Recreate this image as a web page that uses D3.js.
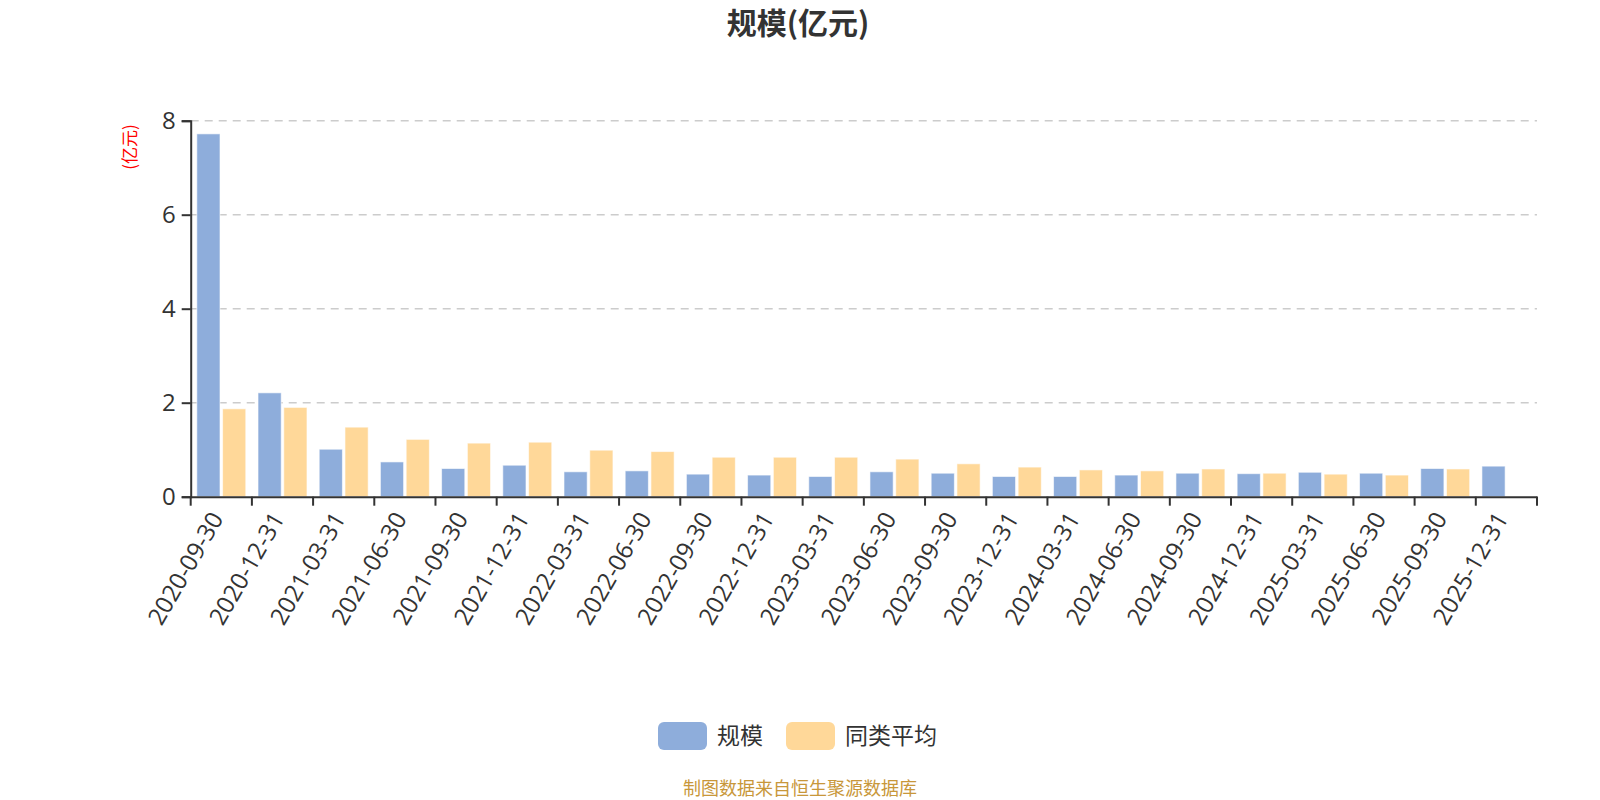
<!DOCTYPE html>
<html>
<head>
<meta charset="utf-8">
<script src="https://cdn.jsdelivr.net/npm/d3@7"></script>
<style>
  body { margin: 0; background: #fff; }
  svg text { font-family: "Noto Sans CJK SC", "Noto Sans", sans-serif; }
</style>
</head>
<body>
<svg id="chart" width="1600" height="800"></svg>
<script>
// data
const dates = ["2020-09-30","2020-12-31","2021-03-31","2021-06-30","2021-09-30","2021-12-31",
  "2022-03-31","2022-06-30","2022-09-30","2022-12-31","2023-03-31","2023-06-30","2023-09-30",
  "2023-12-31","2024-03-31","2024-06-30","2024-09-30","2024-12-31","2025-03-31","2025-06-30",
  "2025-09-30","2025-12-31"];
const guimo = [7.72,2.21,1.01,0.74,0.60,0.67,0.53,0.55,0.48,0.46,0.43,0.53,0.50,0.43,0.43,0.46,0.50,0.49,0.52,0.50,0.60,0.65];
const tonglei = [1.87,1.90,1.48,1.22,1.14,1.16,0.99,0.96,0.84,0.84,0.84,0.80,0.70,0.63,0.57,0.55,0.59,0.50,0.48,0.46,0.59,null];
const seriesNames = ["规模", "同类平均"];
const colors = ["#8eaddb", "#ffd899"];
const yTicks = [0, 2, 4, 6, 8];

const svg = d3.select("#chart");
const plotL = 190.7, plotR = 1537, plotT = 120.7, plotB = 496.7;

const x = d3.scaleBand().domain(dates).range([plotL, plotR]).paddingInner(0.2).paddingOuter(0.1);
const xs = d3.scaleBand().domain(seriesNames).range([0, x.bandwidth()]).paddingInner(0.1);
const y = d3.scaleLinear().domain([0, 8]).range([plotB, plotT]);

// title
svg.append("text")
  .attr("x", 798).attr("y", 34)
  .attr("text-anchor", "middle")
  .style("font-size", "30px").style("font-weight", "bold").style("fill", "#333")
  .text("规模(亿元)");

// unit label
svg.append("text")
  .attr("transform", "translate(130,147) rotate(-90)")
  .attr("text-anchor", "middle").attr("dy", "0.35em")
  .style("font-size", "17px").style("fill", "red")
  .text("(亿元)");

// grid
svg.append("g").selectAll("line")
  .data(yTicks.filter(d => d > 0))
  .join("line")
  .attr("x1", plotL).attr("x2", plotR)
  .attr("y1", d => y(d)).attr("y2", d => y(d))
  .attr("stroke", "#ccc").attr("stroke-width", 1.5)
  .attr("stroke-dasharray", "8,6");

// bars
const rows = dates.map((d, i) => ({ date: d, vals: [guimo[i], tonglei[i]] }));
const groups = svg.append("g").selectAll("g")
  .data(rows)
  .join("g")
  .attr("transform", d => "translate(" + x(d.date) + ",0)");

groups.selectAll("rect")
  .data(d => d.vals.map((v, k) => ({ name: seriesNames[k], v: v, k: k })).filter(e => e.v != null))
  .join("rect")
  .attr("x", e => xs(e.name))
  .attr("width", xs.bandwidth())
  .attr("y", e => y(e.v))
  .attr("height", e => y(0) - y(e.v))
  .attr("fill", e => colors[e.k])
  .attr("stroke", "rgba(255,255,255,0.6)")
  .attr("stroke-width", 1);

// y axis
const yAxis = svg.append("g")
  .attr("transform", "translate(" + plotL + ",0)")
  .call(d3.axisLeft(y).tickValues(yTicks).tickSize(9).tickPadding(6));
yAxis.select(".domain").attr("stroke", "#333").attr("stroke-width", 2);
yAxis.selectAll(".tick line").attr("stroke", "#333").attr("stroke-width", 2);
yAxis.selectAll(".tick text")
  .style("font-size", "24px").style("fill", "#333")
  .style("font-family", "\"Open Sans\", \"Noto Sans\", sans-serif");

// x axis
const xAxis = svg.append("g")
  .attr("transform", "translate(0," + plotB + ")")
  .call(d3.axisBottom(x).tickSize(0).tickPadding(0).tickSizeOuter(0));
xAxis.select(".domain").attr("stroke", "#333").attr("stroke-width", 2);
xAxis.selectAll(".tick text")
  .attr("transform", "translate(-4.5,17.5) rotate(-60)")
  .attr("text-anchor", "end")
  .attr("dy", "0.35em")
  .attr("y", 0)
  .style("font-size", "24px").style("fill", "#333")
  .style("font-family", "\"Open Sans\", \"Noto Sans\", sans-serif");

// boundary ticks on the category axis
const bounds = dates.map(d => x(d) - x.step() * x.paddingInner() / 2).concat([plotR]);
xAxis.append("g").selectAll("line")
  .data(bounds)
  .join("line")
  .attr("x1", d => d).attr("x2", d => d)
  .attr("y1", 0).attr("y2", 9)
  .attr("stroke", "#333").attr("stroke-width", 2);

// legend
const legend = svg.append("g").attr("transform", "translate(658,722)");
const lx = [0, 128];
seriesNames.forEach((name, k) => {
  legend.append("rect")
    .attr("x", lx[k]).attr("y", 0)
    .attr("width", 49).attr("height", 28).attr("rx", 6)
    .attr("fill", colors[k]);
  legend.append("text")
    .attr("x", lx[k] + 59).attr("y", 14).attr("dy", "0.35em")
    .style("font-size", "23px").style("fill", "#333")
    .text(name);
});

// source note
svg.append("text")
  .attr("x", 800).attr("y", 795)
  .attr("text-anchor", "middle")
  .style("font-size", "18px").style("fill", "#c8973a")
  .text("制图数据来自恒生聚源数据库");
</script>
</body>
</html>
